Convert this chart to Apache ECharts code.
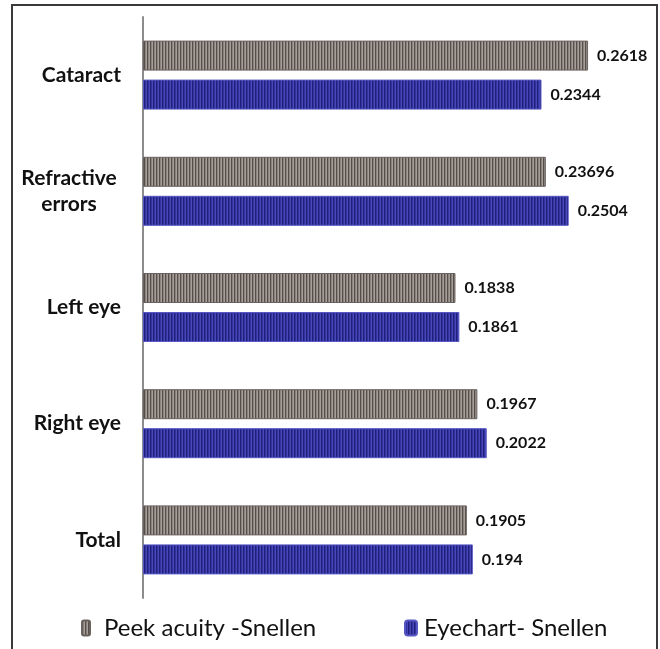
<!DOCTYPE html>
<html>
<head>
<meta charset="utf-8">
<script src="https://cdn.jsdelivr.net/npm/echarts@6/dist/echarts.min.js"></script>
<style>
  html, body { margin: 0; padding: 0; background: #fff; }
  #chart { width: 660px; height: 649px; }
</style>
</head>
<body>
<div id="chart"></div>
<script>
// Groups shown on the category axis, top to bottom
const categories = ['Cataract', 'Refractive errors', 'Left eye', 'Right eye', 'Total'];
// Series values (one per category)
const peekValues = [0.2618, 0.23696, 0.1838, 0.1967, 0.1905];
const eyechartValues = [0.2344, 0.2504, 0.1861, 0.2022, 0.194];
const seriesNames = ['Peek acuity -Snellen', 'Eyechart- Snellen'];

// Vertical-stripe fill built from a tiny repeating canvas
function stripes(cols) {
  const c = document.createElement('canvas');
  c.width = cols.length; c.height = 4;
  const ctx = c.getContext('2d');
  cols.forEach((col, i) => { ctx.fillStyle = col; ctx.fillRect(i, 0, 1, 4); });
  return { image: c, repeat: 'repeat' };
}
const grayFill = stripes(['#564e4a', '#8a827d', '#a69e99']);
const blueFill = stripes(['#20207a', '#3232a0', '#4848b6']);

const chart = echarts.init(document.getElementById('chart'));
const FONT = 'Lato';

const labelStyle = {
  show: true,
  position: 'right',
  distance: 9,
  fontFamily: FONT,
  fontWeight: 'bold',
  fontSize: 16,
  color: '#111'
};

const legendText = { fontFamily: FONT, fontSize: 24, color: '#111' };

chart.setOption({
  backgroundColor: '#fff',
  animation: false,
  grid: { left: 143, right: 7, top: 17, height: 581, containLabel: false },
  xAxis: { type: 'value', min: 0, max: 0.3, show: false },
  yAxis: {
    type: 'category',
    data: categories,
    inverse: true,
    axisLine: { show: true, lineStyle: { color: '#8c8c8c', width: 2 } },
    axisTick: { show: false },
    splitLine: { show: false },
    axisLabel: {
      margin: 22,
      fontFamily: FONT,
      fontWeight: 'bold',
      fontSize: 21,
      color: '#111',
      formatter: v => v === 'Refractive errors' ? '{c|Refractive}\n{c|errors}' : v,
      rich: { c: { width: 104, align: 'center', fontFamily: FONT, fontWeight: 'bold', fontSize: 21, color: '#111', lineHeight: 26 } }
    }
  },
  legend: [
    {
      data: [seriesNames[0]], left: 76, top: 611, itemWidth: 8, itemHeight: 15,
      textStyle: Object.assign({ padding: [0, 0, 0, 9] }, legendText)
    },
    {
      data: [seriesNames[1]], left: 399, top: 611, itemWidth: 12, itemHeight: 15,
      textStyle: Object.assign({ padding: [0, 0, 0, 2] }, legendText)
    }
  ],
  series: [
    {
      name: seriesNames[0], type: 'bar', data: peekValues,
      barWidth: 30, barGap: '30%',
      itemStyle: { color: grayFill, borderColor: '#6a625e', borderWidth: 1 },
      label: labelStyle
    },
    {
      name: seriesNames[1], type: 'bar', data: eyechartValues,
      barWidth: 30, barGap: '30%',
      itemStyle: { color: blueFill, borderColor: '#5656c4', borderWidth: 1 },
      label: labelStyle
    }
  ],
  graphic: [
    {
      type: 'rect', silent: true, z: 100,
      shape: { x: 12, y: 5, width: 645, height: 660 },
      style: { fill: 'none', stroke: '#3a3a3a', lineWidth: 2 }
    }
  ]
});
</script>
</body>
</html>
